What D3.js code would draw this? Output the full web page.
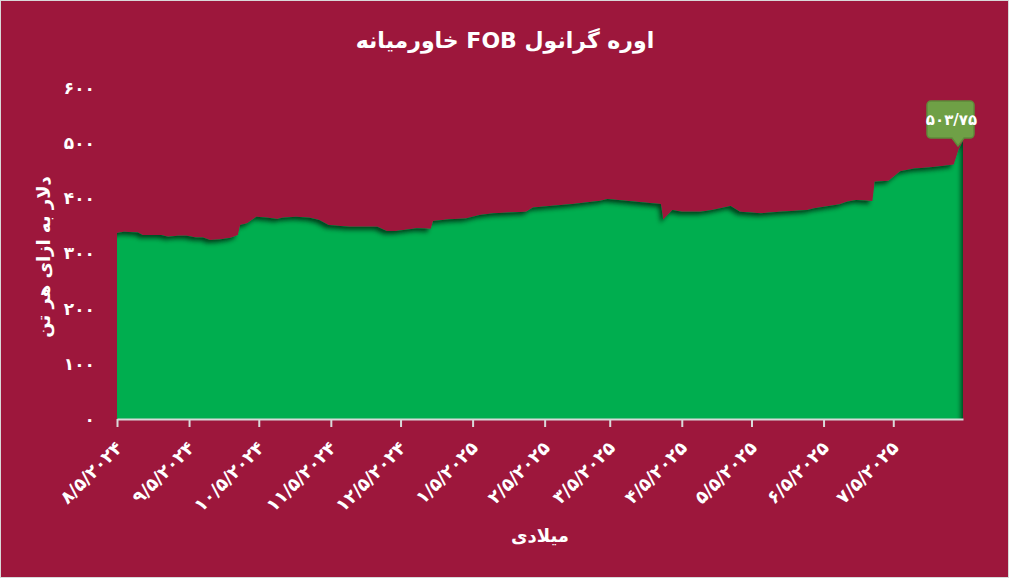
<!DOCTYPE html>
<html><head><meta charset="utf-8">
<script src="https://cdn.jsdelivr.net/npm/d3@7"></script>
<style>
html,body{margin:0;padding:0;background:#9D173C;}
svg{display:block;}
text{font-family:"DejaVu Sans",sans-serif;font-weight:bold;fill:#fff;}
</style></head><body>
<svg id="chart" width="1009" height="578"></svg>
<script>
const dates = ["2024-08-05","2024-08-08","2024-08-14","2024-08-16","2024-08-24","2024-08-27","2024-08-31","2024-09-04","2024-09-08","2024-09-11","2024-09-14","2024-09-18","2024-09-23","2024-09-26","2024-09-27","2024-09-30","2024-10-04","2024-10-09","2024-10-13","2024-10-15","2024-10-21","2024-10-27","2024-10-31","2024-11-04","2024-11-13","2024-11-25","2024-11-29","2024-12-03","2024-12-12","2024-12-18","2024-12-19","2024-12-26","2025-01-02","2025-01-08","2025-01-14","2025-01-28","2025-01-31","2025-02-07","2025-02-17","2025-03-01","2025-03-04","2025-03-12","2025-03-21","2025-03-27","2025-03-28","2025-04-01","2025-04-05","2025-04-13","2025-04-18","2025-04-26","2025-04-30","2025-05-09","2025-05-17","2025-05-29","2025-06-01","2025-06-12","2025-06-15","2025-06-19","2025-06-26","2025-06-27","2025-07-03","2025-07-08","2025-07-14","2025-07-20","2025-07-27","2025-07-31","2025-08-02","2025-08-04"];
const values = [337,339.5,338,333.5,333.5,330.5,332,332,329,329,324.5,325.6,328.6,333.5,351.6,354.7,366.7,365,362.6,365,366.7,365,360.7,351.6,348.6,348.6,340.8,340.8,345.6,345,358.9,362,363.5,370,372.8,375.7,383.6,386,389.7,395.7,398.8,395.7,392,389.7,361.8,378.8,375.7,375.7,378.8,386,375.7,372.8,375.7,378.8,381.9,389.5,393.9,397,395.3,430,432,449,454.3,456,459,461.5,487,503.75];
const tickDates = ["2024-08-05","2024-09-05","2024-10-05","2024-11-05","2024-12-05","2025-01-05","2025-02-05","2025-03-05","2025-04-05","2025-05-05","2025-06-05","2025-07-05"];
const tickLabels = ["۸/۵/۲۰۲۴","۹/۵/۲۰۲۴","۱۰/۵/۲۰۲۴","۱۱/۵/۲۰۲۴","۱۲/۵/۲۰۲۴","۱/۵/۲۰۲۵","۲/۵/۲۰۲۵","۳/۵/۲۰۲۵","۴/۵/۲۰۲۵","۵/۵/۲۰۲۵","۶/۵/۲۰۲۵","۷/۵/۲۰۲۵"];
const yTicks = [0,100,200,300,400,500,600];
const yTickLabels = ["۰","۱۰۰","۲۰۰","۳۰۰","۴۰۰","۵۰۰","۶۰۰"];
const titleText = "اوره گرانول FOB خاورمیانه";
const yTitleText = "دلار به ازای هر تن";
const xTitleText = "میلادی";
const lastLabel = "۵۰۳/۷۵";

const parse = d3.utcParse("%Y-%m-%d");
const data = dates.map((d,i)=>({date:parse(d), value:values[i]}));

const svg = d3.select("#chart");
const W = 1009, H = 578;
const x = d3.scaleUtc().domain([parse("2024-08-05"), parse("2025-08-04")]).range([117, 963]);
const y = d3.scaleLinear().domain([0,600]).range([419, 88]);

svg.append("rect").attr("x",0.5).attr("y",0.5).attr("width",W-1).attr("height",H-1)
  .attr("fill","#9D173C").attr("stroke","#D9D9D9").attr("stroke-width",1);

// inner shadow filter
const defs = svg.append("defs");
const f = defs.append("filter").attr("id","inner").attr("x","-5%").attr("y","-5%").attr("width","110%").attr("height","110%");
f.append("feOffset").attr("in","SourceAlpha").attr("dx",-3).attr("dy",4).attr("result","off");
f.append("feGaussianBlur").attr("in","off").attr("stdDeviation",2.2).attr("result","blur");
f.append("feComposite").attr("in","SourceAlpha").attr("in2","blur").attr("operator","arithmetic")
  .attr("k2",1).attr("k3",-1).attr("result","inv");
f.append("feFlood").attr("flood-color","#003a1b").attr("flood-opacity",0.95).attr("result","col");
f.append("feComposite").attr("in","col").attr("in2","inv").attr("operator","in").attr("result","shadow");
f.append("feComposite").attr("in","shadow").attr("in2","SourceGraphic").attr("operator","over");

const area = d3.area().x(d=>x(d.date)).y0(y(0)).y1(d=>y(d.value)).curve(d3.curveLinear);
svg.append("path").datum(data).attr("d",area).attr("fill","#00AE4F").attr("filter","url(#inner)");

// x axis
const xAxis = d3.axisBottom(x).tickValues(tickDates.map(parse))
  .tickFormat((d,i)=>tickLabels[i]).tickSize(8).tickSizeOuter(0);
const gx = svg.append("g").attr("transform",`translate(0,${y(0)})`).call(xAxis);
gx.select(".domain").attr("stroke","#D9D9D9").attr("stroke-width",2);
gx.selectAll(".tick line").attr("stroke","#D9D9D9").attr("stroke-width",2);
gx.selectAll(".tick text").attr("x",null).attr("y",null).attr("dy",null)
  .attr("transform","translate(6,30) rotate(-45)")
  .attr("text-anchor","end").attr("direction","ltr")
  .style("font-size","18px").style("font-family","'DejaVu Sans',sans-serif").style("font-weight","bold").attr("fill","#fff");

// y axis labels
const yAxis = d3.axisLeft(y).tickValues(yTicks).tickFormat((d,i)=>yTickLabels[i]).tickSize(0).tickPadding(22);
const gy = svg.append("g").attr("transform",`translate(117,0)`).call(yAxis);
gy.select(".domain").remove();
gy.selectAll(".tick text").style("font-size","17px").style("font-family","'DejaVu Sans',sans-serif").style("font-weight","bold").attr("fill","#fff");

// titles
svg.append("text").attr("x",505).attr("y",48).attr("text-anchor","middle").attr("direction","rtl")
  .style("font-size","22px").text(titleText);
svg.append("text").attr("transform","translate(50,257) rotate(-90)").attr("text-anchor","middle").attr("direction","rtl")
  .style("font-size","18px").text(yTitleText);
svg.append("text").attr("x",540).attr("y",542).attr("text-anchor","middle").attr("direction","rtl")
  .style("font-size","18px").text(xTitleText);

// callout for last point
const last = data[data.length-1];
const lx = x(last.date), ly = y(last.value);
const bx0 = lx-36, bx1 = lx+11, by0 = ly-40, by1 = ly-3, r = 4;
const tipX = lx-5, tipY = ly+5;
const p = d3.path();
p.moveTo(bx0+r,by0); p.lineTo(bx1-r,by0); p.arcTo(bx1,by0,bx1,by0+r,r);
p.lineTo(bx1,by1-r); p.arcTo(bx1,by1,bx1-r,by1,r);
p.lineTo(tipX+6,by1); p.lineTo(tipX,tipY); p.lineTo(tipX-6,by1);
p.lineTo(bx0+r,by1); p.arcTo(bx0,by1,bx0,by1-r,r);
p.lineTo(bx0,by0+r); p.arcTo(bx0,by0,bx0+r,by0,r); p.closePath();
svg.append("path").attr("d",p.toString()).attr("fill","#6FA046").attr("stroke","#5E8B3A").attr("stroke-width",1.5);
svg.append("text").attr("x",(bx0+bx1)/2+1).attr("y",(by0+by1)/2).attr("dy","0.35em").attr("text-anchor","middle")
  .attr("direction","ltr").style("font-size","15px").text(lastLabel);
</script>
</body></html>
